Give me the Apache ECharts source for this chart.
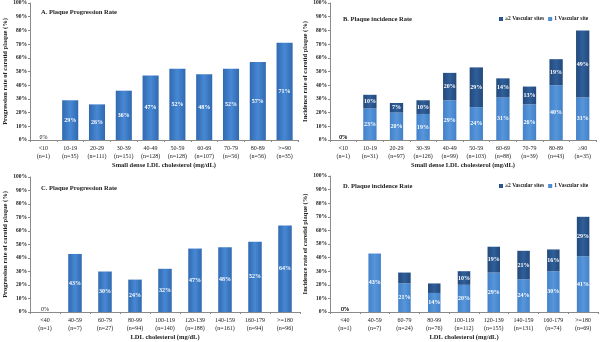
<!DOCTYPE html>
<html>
<head>
<meta charset="utf-8">
<script src="https://cdn.jsdelivr.net/npm/echarts@6/dist/echarts.min.js"></script>
<style>
html,body{margin:0;padding:0;background:#fff}
#chart{width:600px;height:342px}
</style>
</head>
<body>
<div id="chart"></div>
<script>
// panel A: small dense LDL, progression
var catsA = ['<10\n(n=1)','10-19\n(n=35)','20-29\n(n=111)','30-39\n(n=151)','40-49\n(n=128)','50-59\n(n=128)','60-69\n(n=107)','70-79\n(n=56)','80-89\n(n=56)','>=90\n(n=35)'];
var progA = [0, 29, 26, 36, 47, 52, 48, 52, 57, 71];

// panel B: small dense LDL, incidence
var catsB = ['<10\n(n=1)','10-19\n(n=31)','20-29\n(n=97)','30-39\n(n=126)','40-49\n(n=99)','50-59\n(n=103)','60-69\n(n=88)','70-79\n(n=39)','80-89\n(n=43)','\u226590\n(n=35)'];
var oneSiteB = [0, 23, 20, 19, 29, 24, 31, 26, 40, 31];
var twoSiteB = [0, 10, 7, 10, 20, 29, 14, 13, 19, 49];

// panel C: LDL, progression
var catsC = ['<40\n(n=1)','40-59\n(n=7)','60-79\n(n=27)','80-99\n(n=94)','100-119\n(n=140)','120-139\n(n=188)','140-159\n(n=161)','160-179\n(n=94)','>=180\n(n=96)'];
var progC = [0, 43, 30, 24, 32, 47, 48, 52, 64];

// panel D: LDL, incidence
var catsD = ['<40\n(n=1)','40-59\n(n=7)','60-79\n(n=24)','80-99\n(n=76)','100-119\n(n=112)','120-139\n(n=155)','140-159\n(n=131)','160-179\n(n=74)','>=180\n(n=69)'];
var oneSiteD = [0, 43, 21, 14, 20, 29, 24, 30, 41];
var twoSiteD = [0, 0, 8, 7, 10, 19, 21, 16, 29];

var SERIF = '"Liberation Serif", "DejaVu Serif", serif';
var TXT = '#222';

function grad(edge, mid){
  return new echarts.graphic.LinearGradient(0,0,1,0,[
    {offset:0,color:edge},{offset:0.5,color:mid},{offset:1,color:edge}
  ]);
}
var cSingle = grad('#3069b0','#4788d4');
var cLight = grad('#4280c8','#5896db');
var cDark = grad('#23497a','#2f5f9a');

// label on zero bars sits on the axis in dark text
function items(vals, hideBelow){
  return vals.map(function(v,i){
    if (v === 0 && i === 0) return {value:v,label:{show:true,position:'top',distance:0,color:TXT,fontWeight:'normal'}};
    if (v === 0 || (hideBelow && v < hideBelow)) return {value:v,label:{show:false}};
    return v;
  });
}

function xAx(idx, cats, name){
  return {
    type:'category', gridIndex:idx, data:cats,
    name:name, nameLocation:'middle', nameGap:22,
    nameTextStyle:{fontFamily:SERIF,fontSize:6.5,fontWeight:'bold',color:TXT},
    axisLine:{lineStyle:{color:'#8a8a8a',width:1}},
    axisTick:{show:true,length:2,lineStyle:{color:'#8a8a8a'}},
    axisLabel:{fontFamily:SERIF,fontSize:6,color:TXT,lineHeight:8,margin:4,interval:0}
  };
}
function yAx(idx, name){
  return {
    type:'value', gridIndex:idx, min:0, max:100, interval:10,
    name:name, nameLocation:'middle', nameGap:21,
    nameTextStyle:{fontFamily:SERIF,fontSize:6.5,fontWeight:'bold',color:TXT},
    axisLine:{show:true,lineStyle:{color:'#8a8a8a',width:1}},
    axisTick:{show:true,length:2,lineStyle:{color:'#8a8a8a'}},
    splitLine:{show:false},
    axisLabel:{fontFamily:SERIF,fontSize:5.5,fontWeight:'bold',color:TXT,margin:3,
      formatter:function(v){return v+'%';}}
  };
}
var lbl = {show:true,position:'inside',color:'#fff',fontFamily:SERIF,fontSize:6,fontWeight:'bold',
  formatter:function(p){return p.value+'%';}};

var option = {
  animation:false,
  backgroundColor:'#fff',
  title:[
    {text:'A. Plaque Progression Rate',left:36,top:4},
    {text:'B. Plaque incidence Rate',left:338,top:11},
    {text:'C. Plaque Progression Rate',left:36,top:180},
    {text:'D. Plaque incidence Rate',left:338,top:178}
  ].map(function(t){t.textStyle={fontFamily:SERIF,fontSize:6.5,fontWeight:'bold',color:TXT};return t;}),
  legend:[
    {data:['\u22652 Vascular sites','1 Vascular site'],left:494,top:11},
    {data:['\u22652 Vascular sites','1 Vascular site'],left:494,top:178}
  ].map(function(l){
    l.orient='horizontal';l.width=160;
    l.icon='rect';l.itemWidth=4;l.itemHeight=4;l.itemGap=4;
    l.textStyle={fontFamily:SERIF,fontSize:5.5,fontWeight:'bold',color:TXT,padding:[0,0,0,-3]};
    return l;
  }),
  grid:[
    {left:30,top:2,width:268,height:138},
    {left:330,top:3,width:266,height:137},
    {left:30,top:177,width:270,height:137},
    {left:330,top:176,width:268,height:138}
  ],
  xAxis:[
    xAx(0,catsA,'Small dense LDL cholesterol (mg/dL)'),
    xAx(1,catsB,'Small dense LDL cholesterol (mg/dL)'),
    xAx(2,catsC,'LDL cholesterol (mg/dL)'),
    xAx(3,catsD,'LDL cholesterol (mg/dL)')
  ],
  yAxis:[
    yAx(0,'Progression rate of carotid plaque (%)'),
    yAx(1,'Incidence rate of carotid plaque (%)'),
    yAx(2,'Progression rate of carotid plaque (%)'),
    yAx(3,'Incidence rate of carotid plaque (%)')
  ],
  series:[
    {name:'Progression A',type:'bar',xAxisIndex:0,yAxisIndex:0,data:items(progA),barWidth:'60%',
      itemStyle:{color:cSingle},label:lbl},
    {name:'1 Vascular site',type:'bar',stack:'b',xAxisIndex:1,yAxisIndex:1,data:items(oneSiteB),barWidth:'50%',
      itemStyle:{color:cLight},label:lbl},
    {name:'\u22652 Vascular sites',type:'bar',stack:'b',xAxisIndex:1,yAxisIndex:1,data:items(twoSiteB),barWidth:'50%',
      itemStyle:{color:cDark},label:lbl},
    {name:'Progression C',type:'bar',xAxisIndex:2,yAxisIndex:2,data:items(progC),barWidth:'45%',
      itemStyle:{color:cSingle},label:lbl},
    {name:'1 Vascular site',type:'bar',stack:'d',xAxisIndex:3,yAxisIndex:3,data:items(oneSiteD),barWidth:'42%',
      itemStyle:{color:cLight},label:lbl},
    {name:'\u22652 Vascular sites',type:'bar',stack:'d',xAxisIndex:3,yAxisIndex:3,data:items(twoSiteD,9),barWidth:'42%',
      itemStyle:{color:cDark},label:lbl}
  ]
};

var myChart = echarts.init(document.getElementById('chart'));
myChart.setOption(option);
</script>
</body>
</html>
